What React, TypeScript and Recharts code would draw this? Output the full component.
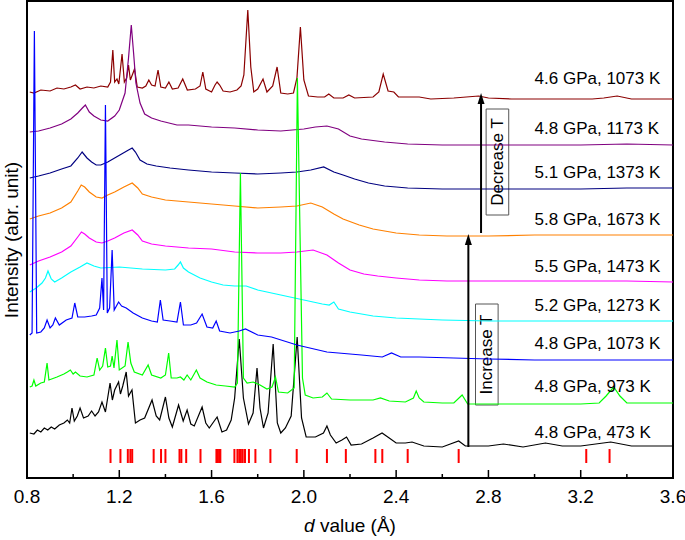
import React from 'react'
import { ComposedChart, Line, Scatter, XAxis, YAxis, ReferenceArea, ReferenceLine, ReferenceDot } from 'recharts'

// d value (Å) vs. stacked intensity (offset, arbitrary units)
const pattern473K: [number, number][] = [
	[0.812, 45], [0.83, 44], [0.845, 48], [0.86, 46], [0.875, 50], [0.89, 48], [0.905, 51], [0.92, 49],
	[0.94, 53], [0.96, 55], [0.975, 58], [0.985, 55], [0.995, 70], [1.005, 57], [1.018, 62], [1.03, 70],
	[1.045, 60], [1.065, 62], [1.08, 67], [1.095, 62], [1.11, 66], [1.125, 76], [1.14, 66], [1.16, 95],
	[1.17, 78], [1.18, 88], [1.197, 96], [1.205, 84], [1.215, 92], [1.23, 106], [1.24, 82], [1.255, 88],
	[1.27, 55], [1.29, 58], [1.31, 60], [1.342, 78], [1.36, 62], [1.375, 58], [1.4, 81], [1.415, 60],
	[1.43, 51], [1.457, 73], [1.477, 57], [1.494, 68], [1.51, 54], [1.525, 52], [1.559, 71], [1.575, 55],
	[1.59, 50], [1.624, 61], [1.645, 46], [1.665, 48], [1.685, 58], [1.7, 80], [1.72, 139], [1.738, 80],
	[1.76, 54], [1.78, 65], [1.797, 110], [1.81, 70], [1.825, 50], [1.845, 65], [1.867, 134], [1.885, 55],
	[1.9, 45], [1.92, 50], [1.945, 62], [1.971, 141], [1.99, 60], [2.01, 41], [2.05, 41], [2.085, 45],
	[2.1, 52], [2.115, 43], [2.14, 35], [2.165, 38], [2.185, 41], [2.205, 33], [2.25, 34], [2.3, 40],
	[2.339, 45], [2.37, 40], [2.4, 35], [2.44, 35], [2.469, 36], [2.52, 32], [2.6, 31], [2.671, 37],
	[2.7, 32], [2.8, 32], [2.865, 34], [2.95, 31], [3.047, 35], [3.12, 32], [3.2, 32], [3.33, 36],
	[3.42, 32], [3.6, 32],
]

const pattern973K: [number, number][] = [
	[0.812, 91], [0.822, 92], [0.83, 98], [0.838, 92], [0.86, 95], [0.875, 96], [0.887, 115], [0.895, 98],
	[0.93, 101], [0.96, 104], [0.975, 106], [0.988, 108], [1.0, 104], [1.01, 106], [1.03, 102], [1.06, 101],
	[1.09, 103], [1.104, 120], [1.115, 108], [1.128, 112], [1.14, 130], [1.15, 111], [1.162, 112], [1.169, 122],
	[1.177, 110], [1.19, 138], [1.2, 108], [1.225, 112], [1.238, 136], [1.25, 115], [1.265, 106], [1.3, 103],
	[1.325, 113], [1.34, 103], [1.38, 100], [1.4, 103], [1.414, 125], [1.425, 100], [1.45, 100], [1.465, 101],
	[1.48, 98], [1.494, 103], [1.51, 98], [1.534, 108], [1.55, 100], [1.58, 96], [1.62, 93], [1.66, 92],
	[1.7, 91], [1.712, 95], [1.725, 305], [1.738, 100], [1.754, 95], [1.78, 96], [1.81, 93], [1.84, 89],
	[1.862, 91], [1.877, 101], [1.89, 86], [1.93, 85], [1.958, 90], [1.972, 400], [1.994, 100], [2.006, 83],
	[2.04, 80], [2.08, 81], [2.1, 85], [2.12, 79], [2.2, 78], [2.3, 78], [2.332, 80], [2.37, 77],
	[2.44, 76], [2.475, 80], [2.487, 87], [2.5, 80], [2.52, 76], [2.6, 75], [2.65, 75], [2.686, 83],
	[2.71, 74], [2.8, 74], [3.0, 74], [3.2, 74], [3.28, 75], [3.31, 82], [3.343, 91], [3.37, 82],
	[3.4, 75], [3.6, 75],
]

const pattern1073K: [number, number][] = [
	[0.812, 143], [0.822, 145], [0.832, 447], [0.842, 145], [0.86, 146], [0.875, 150], [0.887, 158], [0.9, 150],
	[0.912, 153], [0.923, 160], [0.94, 153], [0.97, 158], [0.995, 160], [1.007, 175], [1.02, 161], [1.05, 161],
	[1.08, 162], [1.1, 163], [1.115, 170], [1.125, 200], [1.132, 168], [1.14, 373], [1.148, 165], [1.158, 170],
	[1.169, 228], [1.178, 168], [1.197, 176], [1.21, 172], [1.23, 170], [1.26, 165], [1.3, 160], [1.34, 157],
	[1.365, 156], [1.378, 178], [1.39, 158], [1.42, 157], [1.45, 156], [1.465, 176], [1.478, 153], [1.51, 153],
	[1.535, 155], [1.559, 164], [1.58, 151], [1.605, 150], [1.62, 157], [1.635, 147], [1.68, 145], [1.72, 147],
	[1.747, 149], [1.8, 143], [1.86, 141], [1.97, 133], [2.1, 126], [2.25, 123], [2.34, 121], [2.38, 125],
	[2.42, 121], [2.5, 121], [2.65, 120], [2.8, 119], [3.0, 118], [3.2, 118], [3.4, 118], [3.6, 118],
]

const pattern1273K: [number, number][] = [
	[0.812, 186], [0.84, 190], [0.865, 195], [0.88, 200], [0.891, 207], [0.905, 199], [0.92, 196], [0.95, 200],
	[0.99, 206], [1.03, 211], [1.06, 215], [1.09, 212], [1.12, 210], [1.2, 211], [1.3, 209], [1.4, 208],
	[1.44, 209], [1.455, 213], [1.465, 216], [1.478, 210], [1.5, 206], [1.55, 200], [1.6, 196], [1.65, 193],
	[1.7, 192], [1.75, 192], [1.8, 188], [1.9, 183], [2.0, 178], [2.08, 174], [2.11, 173], [2.13, 176],
	[2.15, 169], [2.2, 166], [2.3, 162], [2.4, 160], [2.5, 159], [2.6, 158], [2.8, 157], [3.0, 157],
	[3.2, 157], [3.4, 157], [3.6, 157],
]

const pattern1473K: [number, number][] = [
	[0.812, 213], [0.85, 217], [0.9, 221], [0.95, 226], [0.99, 232], [1.02, 241], [1.036, 246], [1.05, 244],
	[1.07, 240], [1.1, 236], [1.125, 235], [1.15, 237], [1.18, 240], [1.22, 245], [1.256, 248], [1.28, 243],
	[1.3, 237], [1.34, 234], [1.4, 232], [1.5, 230], [1.6, 229], [1.7, 226], [1.8, 225], [1.9, 225],
	[1.97, 226], [2.04, 228], [2.1, 223], [2.15, 215], [2.2, 208], [2.26, 204], [2.32, 202], [2.4, 200],
	[2.5, 198], [2.62, 197], [2.8, 197], [3.0, 197], [3.2, 197], [3.4, 197], [3.6, 196],
]

const pattern1673K: [number, number][] = [
	[0.812, 259], [0.85, 262], [0.9, 265], [0.95, 270], [0.99, 276], [1.02, 287], [1.035, 293], [1.05, 291],
	[1.07, 286], [1.1, 281], [1.125, 280], [1.15, 283], [1.18, 286], [1.22, 291], [1.256, 295], [1.28, 290],
	[1.3, 284], [1.34, 281], [1.4, 278], [1.5, 276], [1.6, 274], [1.7, 272], [1.8, 270], [1.9, 271],
	[1.97, 272], [2.03, 275], [2.08, 271], [2.13, 264], [2.17, 259], [2.24, 253], [2.3, 249], [2.4, 245],
	[2.5, 243], [2.62, 242], [2.8, 242], [3.0, 243], [3.2, 243], [3.4, 243], [3.6, 243],
]

const pattern1373K: [number, number][] = [
	[0.812, 300], [0.85, 302], [0.9, 305], [0.95, 309], [0.99, 312], [1.02, 320], [1.039, 326], [1.06, 320],
	[1.08, 316], [1.1, 313], [1.12, 313], [1.15, 316], [1.18, 320], [1.21, 324], [1.24, 328], [1.256, 330],
	[1.27, 326], [1.29, 318], [1.32, 314], [1.36, 312], [1.42, 310], [1.5, 308], [1.6, 306], [1.7, 305],
	[1.8, 304], [1.9, 305], [1.97, 306], [2.03, 308], [2.086, 311], [2.13, 306], [2.17, 303], [2.22, 299],
	[2.28, 295], [2.35, 292], [2.45, 290], [2.6, 289], [2.8, 289], [3.0, 289], [3.2, 289], [3.4, 290],
	[3.6, 290],
]

const pattern1173K: [number, number][] = [
	[0.812, 346], [0.85, 347], [0.9, 350], [0.95, 354], [0.99, 359], [1.02, 365], [1.04, 370], [1.053, 373],
	[1.07, 366], [1.09, 362], [1.12, 358], [1.15, 357], [1.18, 362], [1.2, 368], [1.225, 385], [1.24, 420],
	[1.252, 453], [1.262, 425], [1.272, 395], [1.29, 375], [1.31, 364], [1.34, 360], [1.38, 357], [1.45, 353],
	[1.5, 353], [1.6, 351], [1.7, 350], [1.8, 348], [1.9, 347], [1.95, 348], [2.0, 349], [2.05, 351],
	[2.1, 352], [2.15, 349], [2.2, 342], [2.25, 339], [2.35, 336], [2.45, 334], [2.6, 333], [2.8, 333],
	[3.0, 333], [3.2, 333], [3.4, 334], [3.6, 333],
]

const patternQuench1073K: [number, number][] = [
	[0.812, 386], [0.83, 385], [0.86, 388], [0.9, 387], [0.93, 390], [0.96, 389], [0.99, 391], [1.01, 393],
	[1.03, 389], [1.06, 391], [1.09, 390], [1.12, 392], [1.15, 391], [1.162, 396], [1.172, 428], [1.18, 396],
	[1.19, 399], [1.198, 394], [1.212, 424], [1.222, 396], [1.232, 400], [1.24, 413], [1.248, 398], [1.258, 404],
	[1.266, 409], [1.278, 391], [1.3, 390], [1.315, 392], [1.328, 398], [1.34, 393], [1.355, 392], [1.368, 408],
	[1.38, 391], [1.4, 390], [1.415, 396], [1.43, 389], [1.455, 390], [1.475, 399], [1.495, 388], [1.53, 389],
	[1.55, 392], [1.562, 406], [1.575, 389], [1.6, 386], [1.615, 393], [1.624, 396], [1.635, 393], [1.65, 387],
	[1.68, 386], [1.71, 388], [1.728, 392], [1.74, 403], [1.757, 468], [1.77, 411], [1.783, 386], [1.8, 389],
	[1.823, 399], [1.84, 386], [1.865, 392], [1.884, 411], [1.9, 385], [1.93, 384], [1.955, 385], [1.97, 400],
	[1.985, 451], [2.0, 398], [2.02, 382], [2.06, 381], [2.09, 381], [2.108, 384], [2.13, 380], [2.17, 380],
	[2.195, 383], [2.22, 380], [2.3, 381], [2.325, 386], [2.344, 404], [2.365, 387], [2.39, 386], [2.41, 381],
	[2.5, 381], [2.55, 379], [2.65, 380], [2.758, 382], [2.8, 380], [2.9, 379], [3.0, 379], [3.1, 379],
	[3.25, 379], [3.3, 380], [3.358, 382], [3.42, 379], [3.6, 379],
]

// reference reflection positions (red bars)
const reflections = [
	1.162, 1.205, 1.237, 1.248, 1.256, 1.349, 1.381, 1.4, 1.461, 1.469, 1.49, 1.552, 1.621, 1.627, 1.633,
	1.638, 1.699, 1.712, 1.72, 1.727, 1.735, 1.745, 1.762, 1.79, 1.855, 1.969, 2.1, 2.182, 2.31, 2.34,
	2.45, 2.671, 3.224, 3.325,
]

const curveLabels = [
	'4.6 GPa, 1073 K', '4.8 GPa, 1173 K', '5.1 GPa, 1373 K', '5.8 GPa, 1673 K', '5.5 GPa, 1473 K',
	'5.2 GPa, 1273 K', '4.8 GPa, 1073 K', '4.8 GPa, 973 K', '4.8 GPa, 473 K',
]
const labelLevels = [400, 350, 306, 259, 212, 173, 135, 92, 46]

const xTicks = [0.8, 1.0, 1.2, 1.4, 1.6, 1.8, 2.0, 2.2, 2.4, 2.6, 2.8, 3.0, 3.2, 3.4, 3.6]

const series = [
	{ name: '4.6 GPa, 1073 K', data: patternQuench1073K, color: '#8B0000' },
	{ name: '4.8 GPa, 1173 K', data: pattern1173K, color: '#800080' },
	{ name: '5.1 GPa, 1373 K', data: pattern1373K, color: '#000080' },
	{ name: '5.8 GPa, 1673 K', data: pattern1673K, color: '#FF8000' },
	{ name: '5.5 GPa, 1473 K', data: pattern1473K, color: '#FF00FF' },
	{ name: '5.2 GPa, 1273 K', data: pattern1273K, color: '#00FFFF' },
	{ name: '4.8 GPa, 473 K', data: pattern473K, color: '#000000' },
	{ name: '4.8 GPa, 973 K', data: pattern973K, color: '#00FF00' },
	{ name: '4.8 GPa, 1073 K', data: pattern1073K, color: '#0000FF' },
]

const FONT = '"Liberation Sans", Arial, Helvetica, sans-serif'

const toPoints = (arr: [number, number][]) => arr.map(([d, y]) => ({ d, y }))

const AxisTick = (props: any) => {
	const { x, y, payload } = props
	const major = Math.round(payload.value * 10) % 4 === 0
	return (
		<g>
			<line x1={x} x2={x} y1={y} y2={y - (major ? 8 : 4)} stroke="#000" strokeWidth={1.5} />
			{major && (
				<text x={x} y={y + 25} textAnchor="middle" fontSize={19} fill="#000" fontFamily={FONT}>
					{payload.value.toFixed(1)}
				</text>
			)}
		</g>
	)
}

const RefBar = (props: any) => (
	<line x1={props.cx} x2={props.cx} y1={props.cy - 7} y2={props.cy + 7} stroke="#FF0000" strokeWidth={2} />
)

const CurveLabel = (props: any) => (
	<text x={props.cx} y={props.cy} dy="0.35em" fontSize={17} fill="#000" fontFamily={FONT}>
		{props.payload.text}
	</text>
)

const ArrowHead = (props: any) => {
	const { cx, cy } = props
	return <polygon points={`${cx},${cy} ${cx - 3.5},${cy + 11} ${cx + 3.5},${cy + 11}`} fill="#000" />
}

const boxLabel = (text: string) => (p: any) => {
	const { x, y, width, height } = p.viewBox
	const cx = x + width / 2
	const cy = y + height / 2
	return (
		<text
			transform={`translate(${cx},${cy}) rotate(-90)`}
			textAnchor="middle"
			dominantBaseline="central"
			fontSize={17}
			fill="#000"
			fontFamily={FONT}
		>
			{text}
		</text>
	)
}

const App = () => {
	const labelData = curveLabels.map((text, i) => ({ d: 3.0, y: labelLevels[i], text }))
	const barData = reflections.map((d) => ({ d, y: 22 }))

	return (
		<div style={{ position: 'absolute', left: 0, top: 0, background: '#fff' }}>
			<ComposedChart width={685} height={540} margin={{ top: 1, right: 12, bottom: 0, left: 0 }} style={{ fontFamily: FONT }}>
				<XAxis
					dataKey="d"
					type="number"
					domain={[0.8, 3.6]}
					ticks={xTicks}
					allowDataOverflow
					axisLine={false}
					tickLine={false}
					tickSize={0}
					tickMargin={0}
					height={62}
					tick={<AxisTick />}
					label={{
						content: (p: any) => {
							const vb = p.viewBox
							return (
								<text x={vb.x + vb.width / 2} y={vb.y + 54} textAnchor="middle" fontSize={19} fill="#000" fontFamily={FONT}>
									<tspan fontStyle="italic">d</tspan> value (Å)
								</text>
							)
						},
					}}
				/>
				<YAxis
					dataKey="y"
					type="number"
					domain={[0, 477]}
					allowDataOverflow
					axisLine={false}
					tick={false}
					tickLine={false}
					width={27}
					label={{
						content: () => (
							<text
								transform="translate(11,240) rotate(-90)"
								textAnchor="middle"
								dominantBaseline="central"
								fontSize={19}
								fill="#000"
								fontFamily={FONT}
							>
								Intensity (abr. unit)
							</text>
						),
					}}
				/>
				{series.map((s) => (
					<Line
						key={s.name + s.color}
						data={toPoints(s.data)}
						dataKey="y"
						type="linear"
						stroke={s.color}
						strokeWidth={1.2}
						dot={false}
						activeDot={false}
						isAnimationActive={false}
					/>
				))}
				<Scatter data={barData} dataKey="y" shape={<RefBar />} isAnimationActive={false} />
				<Scatter data={labelData} dataKey="y" shape={<CurveLabel />} isAnimationActive={false} />

				<ReferenceLine segment={[{ x: 2.713, y: 31 }, { x: 2.713, y: 236 }]} stroke="#000" strokeWidth={2} />
				<ReferenceDot x={2.713} y={244} r={0} shape={<ArrowHead />} />
				<ReferenceLine segment={[{ x: 2.768, y: 245 }, { x: 2.768, y: 377 }]} stroke="#000" strokeWidth={2} />
				<ReferenceDot x={2.768} y={385} r={0} shape={<ArrowHead />} />

				<ReferenceArea x1={2.744} x2={2.842} y1={73} y2={174} fill="none" fillOpacity={0} stroke="#555" strokeWidth={1} label={{ content: boxLabel('Increase T') }} />
				<ReferenceArea x1={2.79} x2={2.888} y1={263} y2={369} fill="none" fillOpacity={0} stroke="#555" strokeWidth={1} label={{ content: boxLabel('Decrease T') }} />

				<ReferenceArea x1={0.8} x2={3.6} y1={0} y2={477} fill="none" fillOpacity={0} stroke="#000" strokeWidth={2} />
			</ComposedChart>
		</div>
	)
}

export default App
